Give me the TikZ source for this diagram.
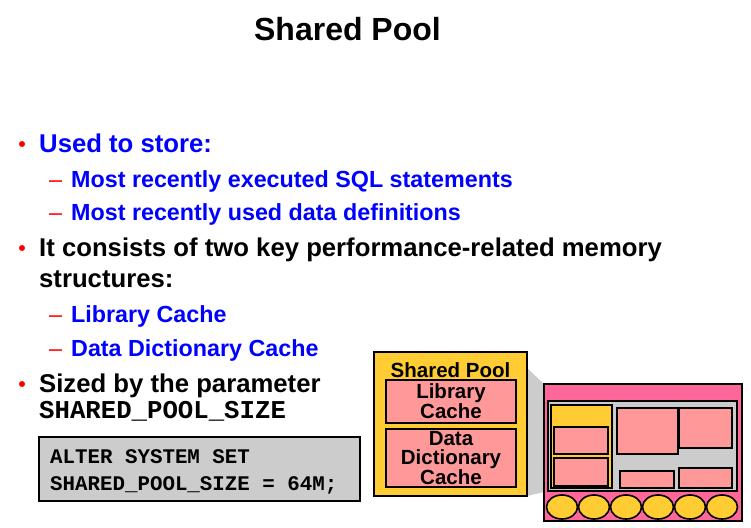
\documentclass[tikz,border=0pt]{standalone}
\usepackage{fontspec}
\setmainfont{Liberation Sans}
\setmonofont{Liberation Mono}
\usetikzlibrary{positioning,shapes.geometric}

\definecolor{textblue}{RGB}{0,0,255}
\definecolor{dotred}{RGB}{255,0,0}
\definecolor{poolyellow}{RGB}{255,204,51}
\definecolor{cachepink}{RGB}{255,153,153}
\definecolor{bandpink}{RGB}{255,102,153}
\definecolor{sgagray}{RGB}{204,204,204}

\tikzset{
  maintxt/.style={anchor=base west, inner sep=0pt, font=\fontsize{25.7}{30}\selectfont\bfseries},
  subtxt/.style={anchor=base west, inner sep=0pt, text=textblue, font=\fontsize{23.3}{28}\selectfont\bfseries},
  bulletdot/.style={circle, fill=dotred, inner sep=0pt, minimum size=6pt},
  subdash/.style={anchor=base west, inner sep=0pt, text=dotred, font=\fontsize{23.3}{28}\selectfont},
  codetxt/.style={anchor=base west, inner sep=0pt, font=\fontsize{20.8}{24}\selectfont\ttfamily\bfseries},
  blockbox/.style={rectangle, draw=black, line width=1.6pt, inner sep=0pt},
  boxtxt/.style={align=center, font=\fontsize{20.5}{18.5}\selectfont\bfseries},
}

\begin{document}
\begin{tikzpicture}[x=1pt,y=-1pt]
\useasboundingbox (0,0) rectangle (751,527);

% Title
\node[anchor=base, inner sep=0pt, font=\fontsize{32}{36}\selectfont\bfseries] (title) at (347.5,41) {Shared Pool};

%%%%%%%%%%%%%%%%%%%% Bullets %%%%%%%%%%%%%%%%%%%%%%%%%%
\node[bulletdot] (b1) at (22,144) {};
\node[maintxt, text=textblue] (t1) at (39,152) {Used to store:};
\node[subdash] (d11) at (49,187) {--};
\node[subtxt] (t11) at (71,187) {Most recently executed SQL statements};
\node[subdash] (d12) at (49,220) {--};
\node[subtxt] (t12) at (71,220) {Most recently used data definitions};

\node[bulletdot] (b2) at (22,248) {};
\node[maintxt] (t2) at (39,256) {It consists of two key performance-related memory};
\node[maintxt] (t2b) at (39,287) {structures:};
\node[subdash] (d21) at (49,322) {--};
\node[subtxt] (t21) at (71,322) {Library Cache};
\node[subdash] (d22) at (49,356) {--};
\node[subtxt] (t22) at (71,356) {Data Dictionary Cache};

\node[bulletdot] (b3) at (22,384) {};
\node[maintxt] (t3) at (39,392) {Sized by the parameter};
\node[maintxt, font=\fontsize{25.7}{30}\selectfont\ttfamily\bfseries] (t3b) at (39,418) {SHARED\_POOL\_SIZE};

%%%%%%%%%%%%%%%%%%%% Code box %%%%%%%%%%%%%%%%%%%%%%%%%%
\node[blockbox, fill=sgagray, line width=2pt, minimum width=321pt, minimum height=64pt] (code) at (199.5,469) {};
\node[codetxt] (c1) at (50,463) {ALTER SYSTEM SET};
\node[codetxt] (c2) at (50,490) {SHARED\_POOL\_SIZE = 64M;};

%%%%%%%%%%%%%%%%%%%% Shared pool (zoomed) %%%%%%%%%%%%%%%%%%%%%%%%%%
\fill[sgagray] (527,368) -- (544,384) -- (544,492) -- (527,496) -- cycle;
\node[blockbox, fill=poolyellow, minimum width=153pt, minimum height=144pt] (pool) at (450.5,424) {};
\node[anchor=base, inner sep=0pt, font=\fontsize{20.5}{18.5}\selectfont\bfseries] (pooltitle) at (450.5,377) {Shared Pool};
\node[blockbox, fill=cachepink, boxtxt, minimum width=130pt, minimum height=43pt] (lib) at (451,401.5) {Library\\Cache};
\node[blockbox, fill=cachepink, boxtxt, minimum width=130pt, minimum height=58pt] (dict) at (451,458) {Data\\Dictionary\\Cache};

%%%%%%%%%%%%%%%%%%%% SGA %%%%%%%%%%%%%%%%%%%%%%%%%%
\node[blockbox, fill=bandpink, minimum width=198pt, minimum height=137pt] (sga) at (643,452.5) {};
\node[blockbox, fill=sgagray, minimum width=189pt, minimum height=90pt] (sgainner) at (642.5,446) {};
\node[blockbox, fill=poolyellow, minimum width=61pt, minimum height=83pt] (sgapool) at (581.5,446.5) {};
\node[blockbox, fill=cachepink, minimum width=54pt, minimum height=27pt] (sgalib) at (581,440.5) {};
\node[blockbox, fill=cachepink, minimum width=54pt, minimum height=28pt] (sgadict) at (581,472) {};
\node[blockbox, fill=cachepink, minimum width=61pt, minimum height=46pt] (buf1) at (647.5,431) {};
\node[blockbox, fill=cachepink, minimum width=53pt, minimum height=40pt] (buf2) at (705.5,428) {};
\node[blockbox, fill=cachepink, minimum width=54pt, minimum height=17pt] (buf3) at (647,479.5) {};
\node[blockbox, fill=cachepink, minimum width=53pt, minimum height=20pt] (buf4) at (705.5,478) {};

% processes
\foreach \index in {0, 1, ..., 5}
{
    \node[ellipse, draw=black, line width=1.6pt, fill=poolyellow, inner sep=0pt, minimum width=31pt, minimum height=24pt] (p\index) at (562+32*\index,507) {};
}

\end{tikzpicture}
\end{document}
